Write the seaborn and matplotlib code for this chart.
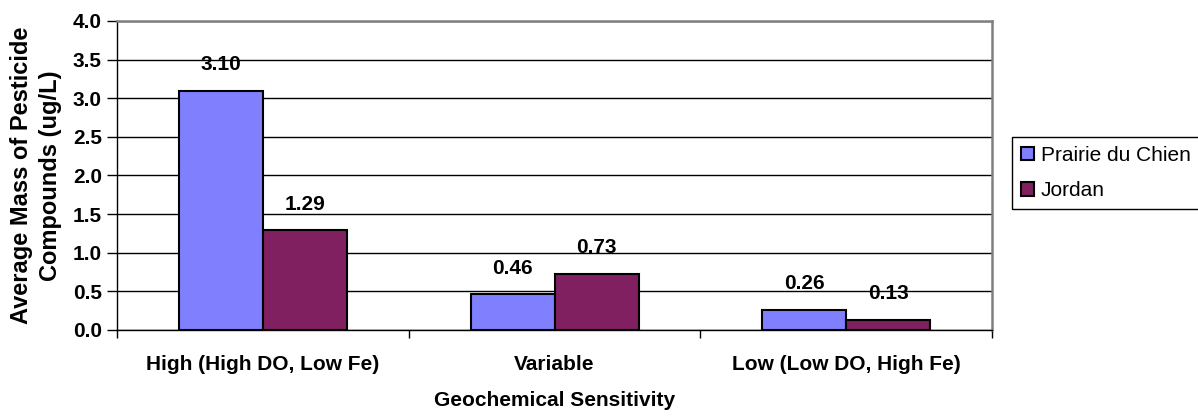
import matplotlib
matplotlib.use("Agg")
import matplotlib.pyplot as plt
import seaborn as sns
import pandas as pd
from matplotlib.patches import Patch

categories = ["High (High DO, Low Fe)", "Variable", "Low (Low DO, High Fe)"]
series = ["Prairie du Chien", "Jordan"]
prairie = [3.10, 0.46, 0.26]
jordan = [1.29, 0.73, 0.13]
colors = ["#8080FF", "#802060"]

df = pd.DataFrame({
    "cat": categories * 2,
    "series": [series[0]] * 3 + [series[1]] * 3,
    "val": prairie + jordan,
})

sns.set_theme(style="white")
plt.rcParams["font.family"] = ["Liberation Sans", "DejaVu Sans"]
plt.rcParams["text.color"] = "black"
plt.rcParams["axes.labelcolor"] = "black"
plt.rcParams["xtick.color"] = "black"
plt.rcParams["ytick.color"] = "black"

fig = plt.figure(figsize=(11.98, 4.2), dpi=100)
ax = fig.add_axes([0.0977, 0.2143, 0.7304, 0.7357])

sns.barplot(data=df, x="cat", y="val", hue="series", order=categories,
            hue_order=series, palette=colors, saturation=1, width=0.576, ax=ax,
            edgecolor="black", linewidth=1.5, legend=False, errorbar=None)

ax.set_ylim(0, 4.0)
ax.set_xlim(-0.5, 2.5)
ax.set_yticks([i * 0.5 for i in range(9)])
ax.set_yticklabels([f"{i*0.5:.1f}" for i in range(9)], fontsize=15, fontweight="bold")
ax.yaxis.grid(True, color="black", linewidth=1)
ax.set_axisbelow(True)
ax.tick_params(axis="y", left=True, length=7, width=1, color="black", labelcolor="black",
               direction="out", pad=4)
ax.set_xticks([0, 1, 2])
ax.set_xticklabels(categories, fontsize=15, fontweight="bold")
ax.tick_params(axis="x", bottom=False, pad=12, labelcolor="black")
ax.set_xticks([-0.5, 0.5, 1.5, 2.5], minor=True)
ax.tick_params(axis="x", which="minor", bottom=True, length=6, width=1, color="black", direction="out")

for s in ["left", "bottom"]:
    ax.spines[s].set_color("black")
    ax.spines[s].set_linewidth(1)
for s in ["top", "right"]:
    ax.spines[s].set_color("#808080")
    ax.spines[s].set_linewidth(1.8)

for cont in ax.containers:
    ax.bar_label(cont, fmt="%.2f", padding=12, fontsize=15, fontweight="bold", color="black")

ax.set_xlabel("Geochemical Sensitivity", fontsize=15, fontweight="bold", labelpad=12, color="black")
ax.set_ylabel("Average Mass of Pesticide\nCompounds (ug/L)", fontsize=17, fontweight="bold",
              labelpad=8, linespacing=1.3, color="black")

handles = [Patch(facecolor=c, edgecolor="black", linewidth=1.5) for c in colors]
leg = fig.legend(handles, series, loc="upper left", bbox_to_anchor=(0.8447, 0.674),
                 frameon=True, fancybox=False, shadow=False, fontsize=15,
                 handlelength=0.63, handleheight=0.63, handletextpad=0.33,
                 borderpad=0.42, labelspacing=0.8, borderaxespad=0)
leg.get_frame().set_edgecolor("black")
leg.get_frame().set_linewidth(1)
leg.get_frame().set_alpha(1)
for t in leg.get_texts():
    t.set_color("black")

fig.savefig("out.png", dpi=100)
